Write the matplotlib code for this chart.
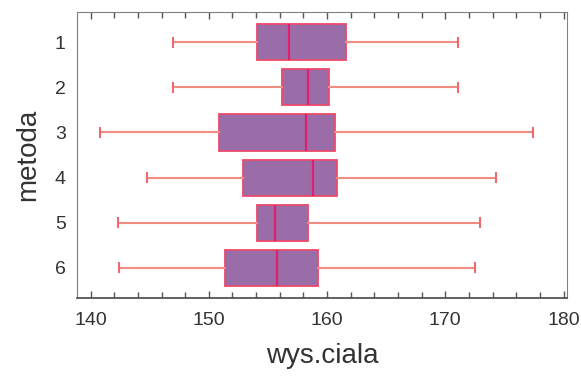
import matplotlib
matplotlib.use("Agg")
import matplotlib.pyplot as plt
from matplotlib.ticker import MultipleLocator

metody = ["1", "2", "3", "4", "5", "6"]
wasy_dol = [147.0, 147.0, 140.8, 144.8, 142.3, 142.4]
q1 = [154.1, 156.2, 150.9, 152.9, 154.1, 151.4]
mediana = [156.8, 158.4, 158.2, 158.8, 155.6, 155.8]
q3 = [161.6, 160.2, 160.7, 160.8, 158.4, 159.2]
wasy_gora = [171.1, 171.1, 177.4, 174.3, 172.9, 172.5]

plt.rcParams['font.family'] = ['Liberation Sans', 'DejaVu Sans']

stats = []
for i in range(len(metody)):
    stats.append({"label": metody[i], "whislo": wasy_dol[i], "q1": q1[i],
                  "med": mediana[i], "q3": q3[i], "whishi": wasy_gora[i], "fliers": []})

fig = plt.figure(figsize=(5.81, 3.77), dpi=100)
ax = fig.add_axes([0.1325, 0.2095, 0.8435, 0.7585])

ax.bxp(stats, positions=range(1, 7), vert=False, widths=0.8, patch_artist=True,
       showfliers=False, capwidths=0.2,
       boxprops=dict(facecolor="#9a6da8", edgecolor="#ec4a6c", linewidth=1.3),
       medianprops=dict(color="#e0206e", linewidth=1.6),
       whiskerprops=dict(color="#f28b82", linewidth=1.5),
       capprops=dict(color="#ee6a72", linewidth=1.5))

ax.set_xlim(138.85, 180.3)
ax.set_ylim(6.67, 0.33)
ax.xaxis.set_major_locator(MultipleLocator(10))
ax.xaxis.set_minor_locator(MultipleLocator(2))
ax.minorticks_on()
ax.yaxis.set_minor_locator(plt.NullLocator())
ax.tick_params(axis="x", which="both", direction="in", top=True, bottom=True,
               colors="#555555", labelcolor="#333333", labelsize=14, pad=10)
ax.tick_params(axis="x", which="major", length=5, width=1)
ax.tick_params(axis="x", which="minor", length=4, width=1)
ax.tick_params(axis="y", length=0, labelsize=14, labelcolor="#333333", pad=8)
for s in ax.spines.values():
    s.set_color("#808080")
ax.spines["bottom"].set_color("#555555")
ax.spines["bottom"].set_linewidth(1.3)

ax.set_xlabel("wys.ciala", fontsize=20, color="#333333", labelpad=10)
ax.set_ylabel("metoda", fontsize=20, color="#333333", labelpad=10)

fig.savefig("out.png", dpi=100)
